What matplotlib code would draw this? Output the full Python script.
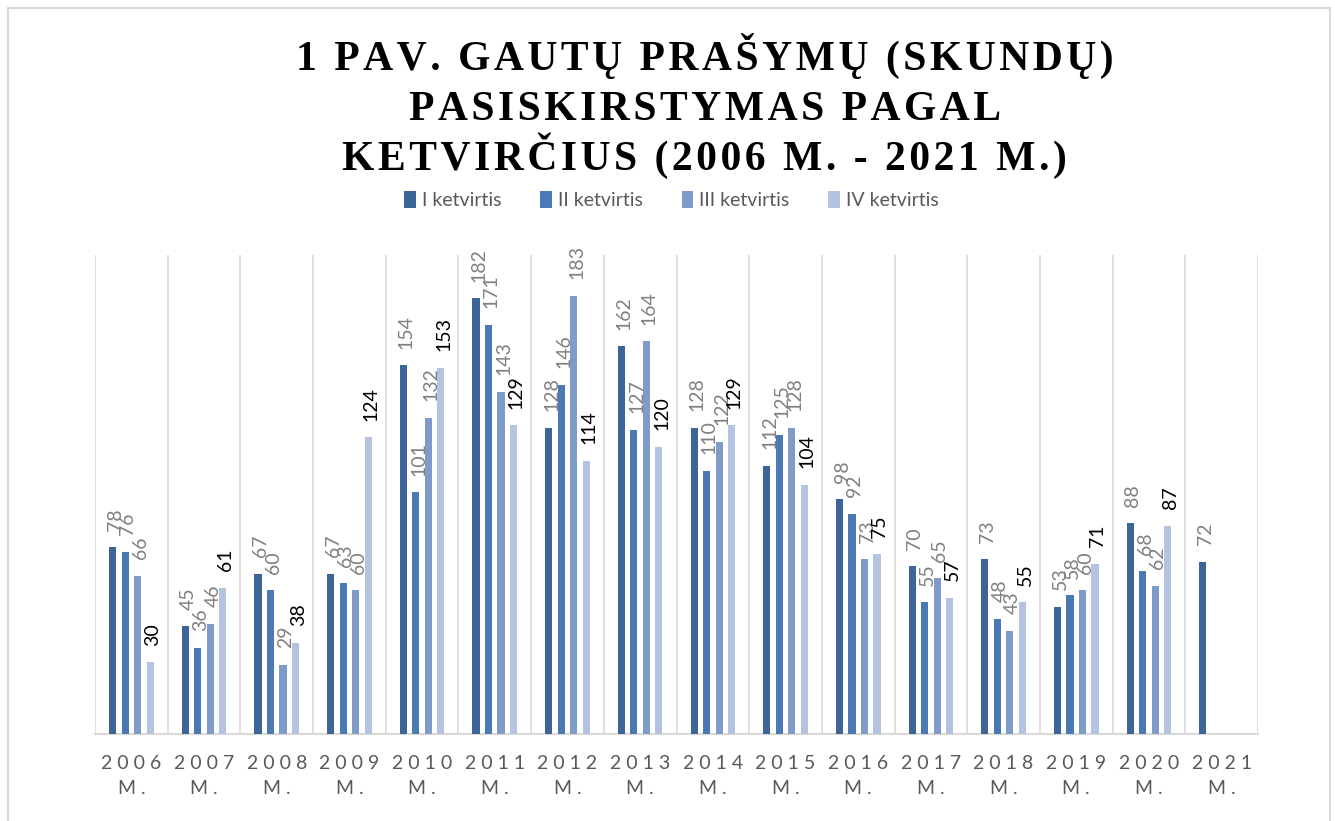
"""Grouped bar chart: requests (complaints) by quarter, 2006-2021."""

import matplotlib

matplotlib.use("Agg")
import matplotlib.pyplot as plt
import numpy as np
from matplotlib.patches import Rectangle

years = ["2006", "2007", "2008", "2009", "2010", "2011", "2012", "2013",
         "2014", "2015", "2016", "2017", "2018", "2019", "2020", "2021"]
series_names = ["I ketvirtis", "II ketvirtis", "III ketvirtis", "IV ketvirtis"]
q1 = [78, 45, 67, 67, 154, 182, 128, 162, 128, 112, 98, 70, 73, 53, 88, 72]
q2 = [76, 36, 60, 63, 101, 171, 146, 127, 110, 125, 92, 55, 48, 58, 68, None]
q3 = [66, 46, 29, 60, 132, 143, 183, 164, 122, 128, 73, 65, 43, 60, 62, None]
q4 = [30, 61, 38, 124, 153, 129, 114, 120, 129, 104, 75, 57, 55, 71, 87, None]
title_lines = ["1 PAV. GAUTŲ PRAŠYMŲ (SKUNDŲ)", "PASISKIRSTYMAS PAGAL",
               "KETVIRČIUS (2006 M. - 2021 M.)"]

COLORS = ["#3d6597", "#4a79b3", "#7f9cc9", "#b4c4e0"]
LABEL_COLORS = ["#808080", "#808080", "#808080", "#000000"]


def spaced(text, sep="\u200a"):
    # poor man's letter spacing
    return sep.join(text)


fig = plt.figure(figsize=(13.35, 8.21), dpi=100)
ax = fig.add_axes([0.0712, 0.106, 0.8711, 0.583])

x = np.arange(len(years))
pitch = 0.172
width = 0.098
for i, (name, vals) in enumerate(zip(series_names, [q1, q2, q3, q4])):
    xs = [xx + (i - 1.5) * pitch for xx, v in zip(x, vals) if v is not None]
    ys = [v for v in vals if v is not None]
    ax.bar(xs, ys, width=width, color=COLORS[i], label=name, zorder=3)
    for xx, v in zip(xs, ys):
        ax.annotate(str(v), (xx, v), xytext=(2, 12), textcoords="offset points",
                    rotation=90, ha="center", va="bottom", fontsize=14,
                    family="Lato", color=LABEL_COLORS[i])

ax.set_xlim(-0.5, len(years) - 0.5)
ax.set_ylim(0, 200)
for b in np.arange(-0.5, len(years), 1.0):
    ax.axvline(b, color="#d9d9d9", lw=1.2, zorder=1)

ax.set_yticks([])
for side in ["top", "left", "right"]:
    ax.spines[side].set_visible(False)
ax.spines["bottom"].set_color("#d9d9d9")
ax.spines["bottom"].set_linewidth(1.5)

ax.set_xticks(x)
ax.set_xticklabels([" ".join(y) + "\nM ." for y in years], fontsize=14,
                   family="Lato", color="#595959", linespacing=1.55)
ax.tick_params(axis="x", length=0, pad=15)

# title lines placed one by one so the spacing stays even
for k, line in enumerate(title_lines):
    fig.text(0.528, 0.9147 - k * 0.0609, spaced(line), ha="center", va="baseline",
             fontsize=30, family=["Liberation Serif", "DejaVu Serif"], weight="bold")

fig.legend(loc="center", bbox_to_anchor=(0.503, 0.756), ncol=4, frameon=False,
           prop={"family": "Lato", "size": 14}, labelcolor="#595959",
           handlelength=0.6, handleheight=0.9, handletextpad=0.3, columnspacing=2.0)

fig.add_artist(Rectangle((0.006, -0.01), 0.99, 1.0, transform=fig.transFigure,
                         fill=False, edgecolor="#d9d9d9", lw=1.5))

fig.savefig("out.png", dpi=100, facecolor="white")
